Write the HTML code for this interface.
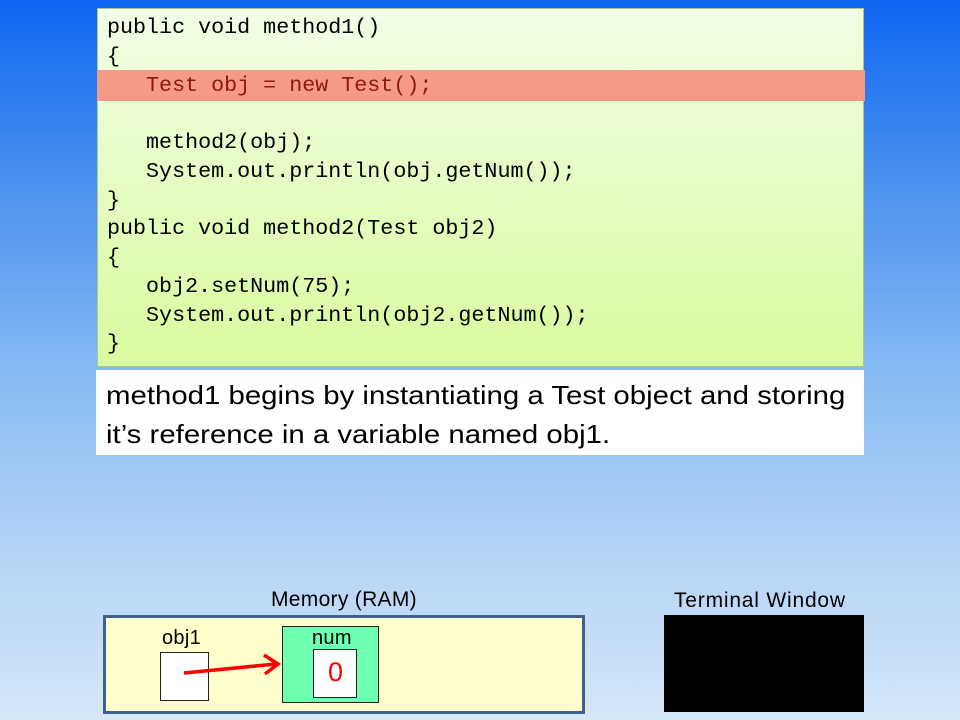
<!DOCTYPE html>
<html><head><style>
body{margin:0;width:960px;height:720px;overflow:hidden;position:relative;font-family:"Liberation Sans",sans-serif;
background:linear-gradient(to bottom,#0f66f2 0%,#4a90ee 25%,#8dbff4 55%,#b8d6f6 80%,#d6e7f8 100%);}
.abs{position:absolute}
#code{left:97px;top:8px;width:767px;height:359px;background:linear-gradient(to bottom,#f2fde6,#d9fb9e);border:1px solid #a9c88a;box-sizing:border-box}
#hl{left:97px;top:70px;width:768px;height:31px;background:#f59a84}
pre{position:absolute;left:107px;top:14px;margin:0;font-family:"Liberation Mono",monospace;font-size:21.7px;line-height:28.75px;color:#000}
.r{color:#8b1a10}
#txt{left:96px;top:370px;width:768px;height:85px;background:#fff}
#txt div{position:absolute;left:10px;top:6px;font-size:26px;line-height:39px;color:#000;white-space:nowrap;transform-origin:0 0;transform:scaleX(1.13)}
.lbl{font-size:21px;color:#000;white-space:nowrap;letter-spacing:0.3px}
</style></head><body>
<div id="code" class="abs"></div>
<div id="hl" class="abs"></div>
<pre>public void method1()
{
   <span class="r">Test obj = new Test();</span>

   method2(obj);
   System.out.println(obj.getNum());
}
public void method2(Test obj2)
{
   obj2.setNum(75);
   System.out.println(obj2.getNum());
}</pre>
<div id="txt" class="abs"><div>method1 begins by instantiating a Test object and storing<br>it’s reference in a variable named obj1.</div></div>

<div class="abs lbl" style="left:271px;top:588px">Memory (RAM)</div>
<div class="abs" style="left:103px;top:615px;width:482px;height:99px;background:#ffffcc;border:3px solid #3f6190;box-sizing:border-box"></div>
<div class="abs lbl" style="left:162px;top:627px;font-size:20px">obj1</div>
<div class="abs" style="left:160px;top:652px;width:49px;height:49px;background:#fff;border:1px solid #222;box-sizing:border-box"></div>
<div class="abs" style="left:282px;top:626px;width:97px;height:77px;background:#6fffb0;border:1px solid #222;box-sizing:border-box"></div>
<div class="abs lbl" style="left:312px;top:627px;font-size:20px">num</div>
<div class="abs" style="left:313px;top:649px;width:44px;height:49px;background:#fff;border:1px solid #222;box-sizing:border-box"></div>
<div class="abs" style="left:328px;top:657px;font-size:27px;color:#f00">0</div>
<svg class="abs" style="left:0;top:0" width="960" height="720">
<line x1="184" y1="673" x2="276" y2="664" stroke="#f00" stroke-width="3.5"/>
<polyline points="264,655 278,664 265,674" fill="none" stroke="#f00" stroke-width="3.5"/>
</svg>

<div class="abs lbl" style="left:674px;top:589px;letter-spacing:0.8px">Terminal Window</div>
<div class="abs" style="left:664px;top:615px;width:200px;height:97px;background:#000"></div>
</body></html>
